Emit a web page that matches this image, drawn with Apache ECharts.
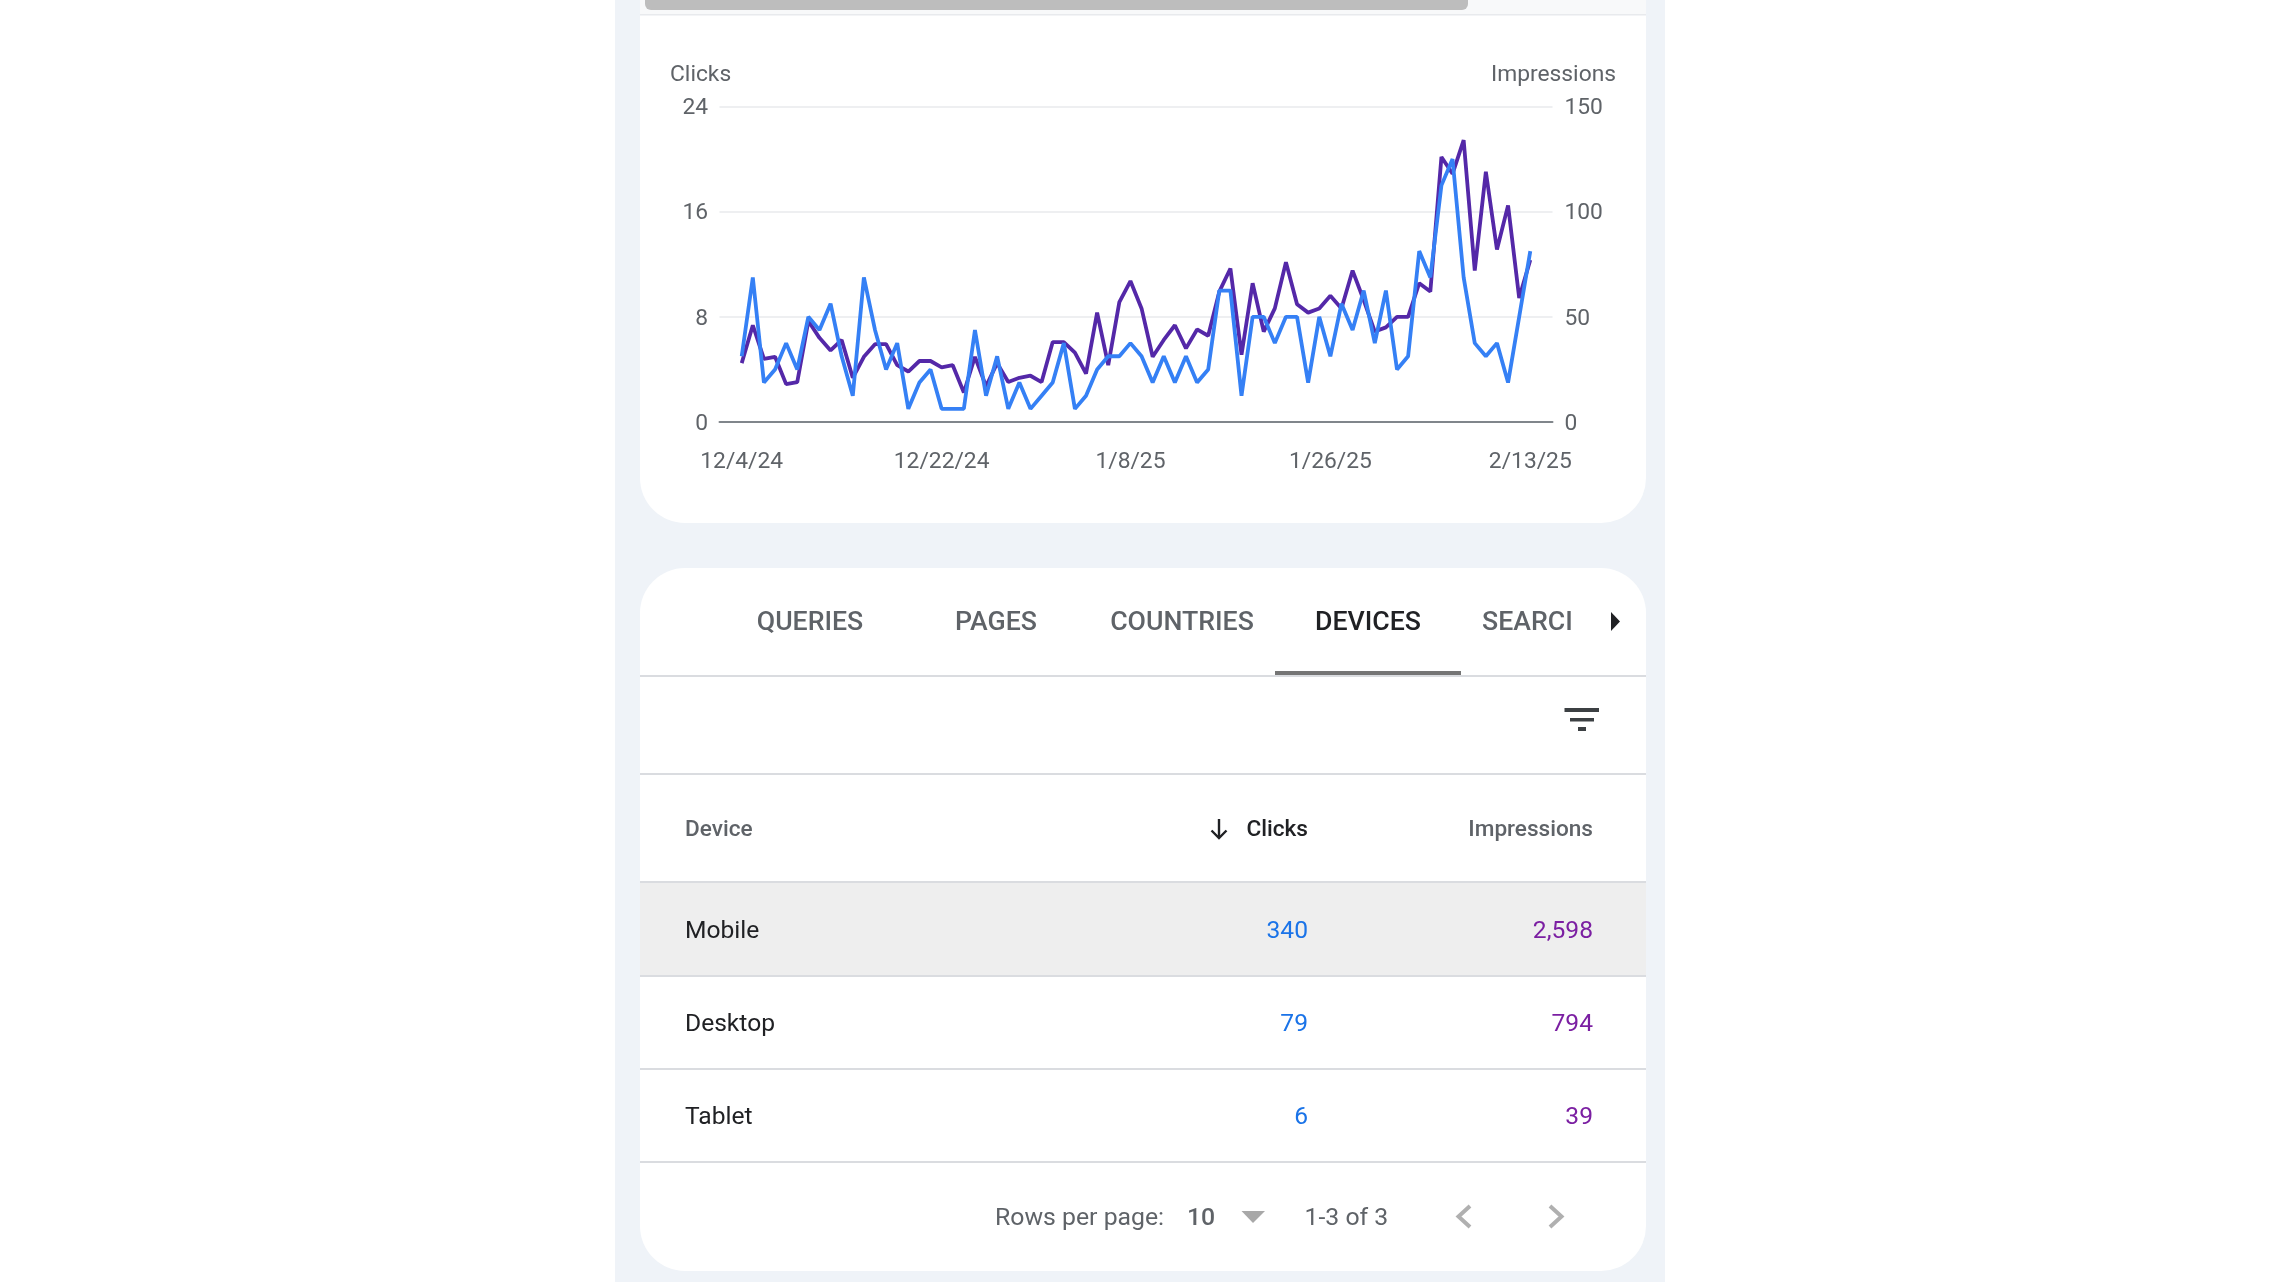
<!DOCTYPE html>
<html>
<head>
<meta charset="utf-8">
<title>Search performance</title>
<style>
  html, body { margin: 0; padding: 0; background: #fff; }
  #chart { width: 2280px; height: 1282px; }
</style>
<script src="https://cdn.jsdelivr.net/npm/echarts@6/dist/echarts.min.js"></script>
</head>
<body>
<div id="chart"></div>
<script>
// daily values, 12/4/24 .. 2/13/25
var dates = [
  '12/4/24', '12/5/24', '12/6/24', '12/7/24', '12/8/24', '12/9/24', '12/10/24', '12/11/24', '12/12/24',
  '12/13/24', '12/14/24', '12/15/24', '12/16/24', '12/17/24', '12/18/24', '12/19/24', '12/20/24', '12/21/24',
  '12/22/24', '12/23/24', '12/24/24', '12/25/24', '12/26/24', '12/27/24', '12/28/24', '12/29/24', '12/30/24',
  '12/31/24', '1/1/25', '1/2/25', '1/3/25', '1/4/25', '1/5/25', '1/6/25', '1/7/25', '1/8/25',
  '1/9/25', '1/10/25', '1/11/25', '1/12/25', '1/13/25', '1/14/25', '1/15/25', '1/16/25', '1/17/25',
  '1/18/25', '1/19/25', '1/20/25', '1/21/25', '1/22/25', '1/23/25', '1/24/25', '1/25/25', '1/26/25',
  '1/27/25', '1/28/25', '1/29/25', '1/30/25', '1/31/25', '2/1/25', '2/2/25', '2/3/25', '2/4/25',
  '2/5/25', '2/6/25', '2/7/25', '2/8/25', '2/9/25', '2/10/25', '2/11/25', '2/12/25', '2/13/25'
];
var clicks = [
  5, 11, 3, 4, 6, 4, 8, 7, 9, 5, 2, 11, 7, 4, 6, 1, 3, 4,
  1, 1, 1, 7, 2, 5, 1, 3, 1, 2, 3, 6, 1, 2, 4, 5, 5, 6,
  5, 3, 5, 3, 5, 3, 4, 10, 10, 2, 8, 8, 6, 8, 8, 3, 8, 5,
  9, 7, 10, 6, 10, 4, 5, 13, 11, 18, 20, 11, 6, 5, 6, 3, 8, 13
];
var impressions = [
  28, 46, 30, 31, 18, 19, 48, 40, 34, 39, 21, 31, 37, 37, 27, 24, 29, 29,
  26, 27, 14, 31, 17, 28, 19, 21, 22, 19, 38, 38, 33, 23, 52, 27, 57, 67,
  54, 31, 39, 46, 35, 44, 41, 62, 73, 32, 66, 43, 54, 76, 56, 52, 54, 60,
  54, 72, 58, 43, 45, 50, 50, 66, 62, 126, 118, 134, 72, 119, 82, 103, 59, 77
];
var dateTicks = ['12/4/24', '12/22/24', '1/8/25', '1/26/25', '2/13/25'];

var tabs = ['QUERIES', 'PAGES', 'COUNTRIES', 'DEVICES'];
var tabCenters = [810, 996, 1182, 1368];
var devices = ['Mobile', 'Desktop', 'Tablet'];
var deviceClicks = ['340', '79', '6'];
var deviceImpressions = ['2,598', '794', '39'];
var rowCenters = [932, 1025, 1118];

var FONT = 'Roboto';
var GREY = '#5f6368';
var LINE = '#dadce0';
var BLUE = '#3580f5';
var PURPLE = '#5428a8';

// the axis runs two days past the data at each end
var PAD = ['', ''];
var axisDates = PAD.concat(dates, PAD);
var padded = function(arr) { return [null, null].concat(arr, [null, null]); };

function rect(x, y, w, h, fill, r) {
  return { type: 'rect', silent: true, shape: { x: x, y: y, width: w, height: h, r: r || 0 }, style: { fill: fill } };
}
function text(str, x, y, size, color, align, weight) {
  return {
    type: 'text', silent: true, x: x, y: y,
    style: {
      text: str, fill: color, fontFamily: FONT, fontSize: size, fontWeight: weight || 400,
      textAlign: align || 'left', textVerticalAlign: 'middle'
    }
  };
}
function path(points, stroke, width) {
  return {
    type: 'polyline', silent: true, shape: { points: points },
    style: { stroke: stroke, lineWidth: width, fill: null }
  };
}
function triangle(points, fill) {
  return { type: 'polygon', silent: true, shape: { points: points }, style: { fill: fill } };
}

var els = [
  rect(615, 0, 1050, 1282, '#eff3f8'),
  // top card, its top edge is cut by the page
  rect(640, -60, 1006, 583, '#ffffff', 45),
  rect(640, 0, 1006, 14, '#f8f9fa'),
  rect(640, 14, 1006, 1.5, '#e8eaed'),
  rect(645, 0, 823, 10, '#bdbdbd', [0, 0, 6, 6]),
  // bottom card
  rect(640, 568, 1006, 703, '#ffffff', 45),
  rect(640, 883, 1006, 92, '#eeeeee'),
  rect(640, 675, 1006, 2, LINE),
  rect(640, 773, 1006, 2, LINE),
  rect(640, 881, 1006, 2, LINE),
  rect(640, 975, 1006, 2, LINE),
  rect(640, 1068, 1006, 2, LINE),
  rect(640, 1161, 1006, 2, LINE),
  rect(1275, 671, 186, 4, '#757575'),
  text('SEARCI', 1482, 623, 26.7, GREY, 'left', 500),
  triangle([[1611, 612], [1620, 621.5], [1611, 631]], '#202124'),
  // filter icon
  rect(1564.5, 708, 34.5, 4, '#3c4043'),
  rect(1570, 718, 24, 3.5, '#3c4043'),
  rect(1578, 727, 8, 4, '#3c4043'),
  // table header
  text('Device', 685, 830, 22.6, GREY, 'left', 500),
  text('Clicks', 1308, 830, 22.6, '#202124', 'right', 500),
  text('Impressions', 1593, 830, 22.6, GREY, 'right', 500),
  path([[1219, 819], [1219, 838]], '#202124', 2.4),
  path([[1211.5, 830.5], [1219, 838], [1226.5, 830.5]], '#202124', 2.4),
  // footer
  text('Rows per page:', 995, 1218.5, 24.8, GREY),
  text('10', 1187, 1218.5, 24.8, GREY, 'left', 500),
  triangle([[1241.5, 1211], [1265, 1211], [1253, 1223]], '#a8a8a8'),
  text('1-3 of 3', 1304.5, 1218.5, 24.8, GREY),
  path([[1470, 1206], [1458.5, 1216.5], [1470, 1227]], '#b0b0b0', 4),
  path([[1550, 1206], [1561.5, 1216.5], [1550, 1227]], '#b0b0b0', 4),
  // y axis names
  text('Clicks', 670, 75.5, 22.8, GREY),
  text('Impressions', 1616, 75.5, 22.8, GREY, 'right')
];

tabs.forEach(function(t, i) {
  els.push(text(t, tabCenters[i], 623, 26.7, t === 'DEVICES' ? '#202124' : GREY, 'center', 500));
});
devices.forEach(function(d, i) {
  els.push(text(d, 685, rowCenters[i], 24.6, '#202124'));
  els.push(text(deviceClicks[i], 1308, rowCenters[i], 24.6, '#1a73e8', 'right'));
  els.push(text(deviceImpressions[i], 1593, rowCenters[i], 24.6, '#7b1fa2', 'right'));
});

// pushes the tick numbers down a little so they sit on their grid lines
var yTickLabel = {
  color: GREY, fontSize: 22.8,
  formatter: '{v|{value}}',
  rich: { v: { color: GREY, fontSize: 22.8, fontFamily: FONT, padding: [4, 0, 0, 0] } }
};

var chart = echarts.init(document.getElementById('chart'));
chart.setOption({
  animation: false,
  textStyle: { fontFamily: FONT },
  graphic: { elements: els },
  grid: { left: 719.5, right: 727.5, top: 106.5, height: 315.5, containLabel: false },
  xAxis: {
    type: 'category',
    data: axisDates,
    boundaryGap: false,
    axisLine: { lineStyle: { color: '#80868b', width: 2 } },
    axisTick: { show: false },
    splitLine: { show: false },
    axisLabel: {
      color: GREY, fontSize: 22.8, margin: 29,
      interval: function(i, v) { return dateTicks.indexOf(v) >= 0; }
    }
  },
  yAxis: [
    {
      type: 'value', min: 0, max: 24, interval: 8,
      axisLine: { show: false }, axisTick: { show: false },
      axisLabel: Object.assign({ margin: 11.5 }, yTickLabel),
      splitLine: { lineStyle: { color: '#e8eaed', width: 1.5 } }
    },
    {
      type: 'value', min: 0, max: 150, interval: 50,
      axisLine: { show: false }, axisTick: { show: false },
      axisLabel: Object.assign({ margin: 12 }, yTickLabel),
      splitLine: { show: false }
    }
  ],
  series: [
    {
      name: 'Impressions', type: 'line', yAxisIndex: 1, data: padded(impressions),
      showSymbol: false, smooth: false, lineStyle: { color: PURPLE, width: 3.8 }
    },
    {
      name: 'Clicks', type: 'line', yAxisIndex: 0, data: padded(clicks),
      showSymbol: false, smooth: false, lineStyle: { color: BLUE, width: 3.8 }
    }
  ]
});
</script>
</body>
</html>
